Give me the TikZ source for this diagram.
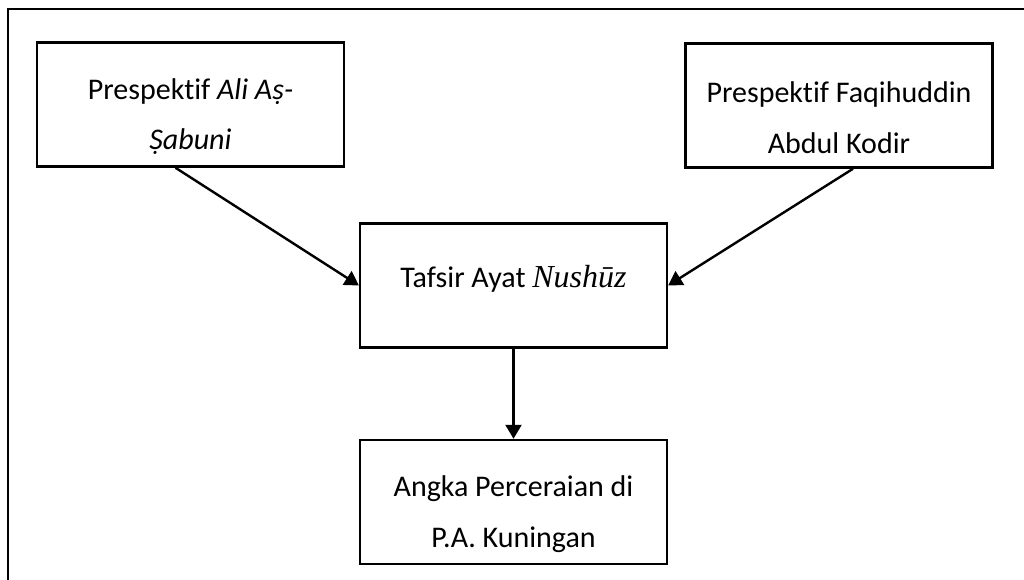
\documentclass[tikz,border=0pt]{standalone}
\usepackage{fontspec}
\setmainfont{Carlito}[Ligatures=NoCommon]
\newfontfamily\timesfont{Liberation Serif}
\usetikzlibrary{positioning, calc, arrows.meta}

% extra room above the first line / below the last line
\newcommand{\padtop}{\rule{0pt}{34pt}}
\newcommand{\padbot}{\rule[-14pt]{0pt}{14pt}}

\begin{document}
\begin{tikzpicture}[
    x=0.75pt, y=-0.75pt,
    box/.style={rectangle, draw, line width=1.9pt, minimum width=230pt, minimum height=93pt, align=center, font=\fontsize{22.5}{38}\selectfont},
    arrow/.style={-{Triangle[length=10.5pt, width=12pt]}, line width=1.8pt}
]
    \useasboundingbox (0,0) rectangle (1024,580);
    \clip (0,0) rectangle (1024,580);
    \draw[line width=1.9pt] (8,9) rectangle (1040,600);

    \node[box] (ali) at (190.5,104.5) {\padtop Prespektif \textit{Ali Aṣ-}\\\textit{Ṣabuni}};
    \node[box] (faqih) at (839,105.5) {\padtop Prespektif Faqihuddin\\Abdul Kodir};
    \node[box] (tafsir) at (513.5,285.5) {Tafsir Ayat {\timesfont\itshape\fontsize{24}{38}\selectfont Nushūz}\padbot};
    \node[box, below=67.5pt of tafsir] (angka) {\padtop Angka Perceraian di\\P.A. Kuningan};

    \draw[arrow] ($(ali.south)+(-15,0)$) -- (tafsir.west);
    \draw[arrow] ($(faqih.south)+(14,0)$) -- (tafsir.east);
    \draw[arrow] (tafsir.south) -- (angka.north);

\end{tikzpicture}
\end{document}
